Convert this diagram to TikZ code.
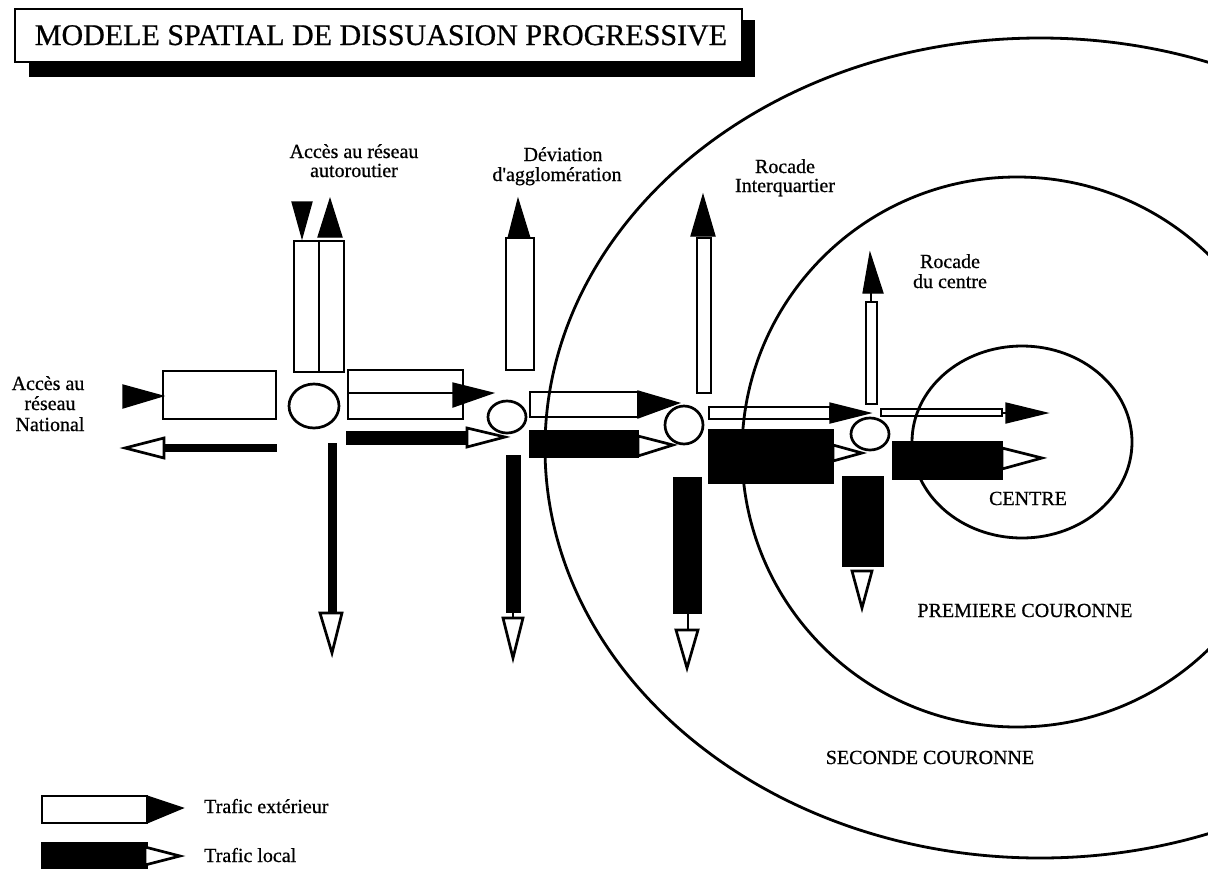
\documentclass[tikz,border=0pt]{standalone}
\usepackage{fontspec}
\setmainfont{Liberation Serif}
\newfontfamily\scanfont[FakeBold=0.7]{Liberation Serif}
\usetikzlibrary{shapes.geometric}
\begin{document}
\begin{tikzpicture}[x=1pt,y=-1pt,line join=miter,
  ring/.style={draw=black,line width=2.8pt},
  wbox/.style={draw=black,line width=2.7pt},
  bbox/.style={draw=black,fill=black,line width=2.7pt},
  bhead/.style={draw=black,fill=black,line width=1.2pt},
  whead/.style={draw=black,fill=white,line width=2.7pt},
  knot/.style={draw=black,fill=white,ellipse,line width=2.7pt,inner sep=0pt},
  lbl/.style={font=\scanfont\fontsize{20}{22}\selectfont,inner sep=0pt,anchor=base},
  lblw/.style={font=\scanfont\fontsize{20}{22}\selectfont,inner sep=0pt,anchor=base west}]
\useasboundingbox (0,0) rectangle (1208,868);
\begin{scope}
\clip (0,0) rectangle (1208,868);
% zones
\draw[ring] (1040,448) ellipse [x radius=495pt, y radius=410pt];
\draw[ring] (1017,452) circle [radius=275pt];
\draw[ring] (1022,442) ellipse [x radius=110pt, y radius=96pt];

% title
\fill[black] (29,20) rectangle (755,77);
\draw[fill=white,line width=2.7pt] (15,9) rectangle (742,62);
\node[font=\scanfont\fontsize{30}{32}\selectfont,inner sep=0pt,anchor=base] (title) at (381,45) {MODELE SPATIAL DE DISSUASION PROGRESSIVE};

% ---- group 1 : national / autoroutier
\node[knot,minimum width=50pt,minimum height=44pt] (c1) at (314,406) {};
\draw[wbox] (163,371) rectangle (276,419);
\draw[bhead] (123,385) -- (123,408) -- (163,396) -- cycle;
\fill[black] (164,444) rectangle (277,452);
\draw[whead] (164,438) -- (164,458) -- (125,448) -- cycle;
\draw[wbox] (294,241) rectangle (319,372);
\draw[wbox] (319,241) rectangle (344,372);
\draw[bhead] (292,202) -- (312,202) -- (302,238) -- cycle;
\draw[bhead] (318,237) -- (342,237) -- (330,199) -- cycle;
\draw[wbox] (348,370) rectangle (463,419);
\draw[wbox] (348,393) -- (453,393);
\draw[bhead] (453,383) -- (453,407) -- (493,393) -- cycle;
\fill[black] (346,431) rectangle (467,445);
\draw[whead] (467,428) -- (467,447) -- (505,437) -- cycle;
\fill[black] (328,443) rectangle (337,613);
\draw[whead] (320,613) -- (342,613) -- (332,653) -- cycle;

% ---- group 2 : deviation
\node[knot,minimum width=38pt,minimum height=32pt] (c2) at (507,417) {};
\draw[wbox] (506,238) rectangle (534,370);
\draw[bhead] (508,238) -- (530,238) -- (518,199) -- cycle;
\draw[wbox] (530,392) rectangle (638,417);
\draw[bhead] (638,391) -- (638,418) -- (679,403) -- cycle;
\draw[bbox] (530,431) rectangle (638,457);
\draw[whead] (638,436) -- (638,456) -- (673,445) -- cycle;
\fill[black] (506,455) rectangle (521,613);
\draw[line width=2.7pt] (513,613) -- (513,618);
\draw[whead] (503,618) -- (523,618) -- (513,658) -- cycle;

% ---- group 3 : interquartier
\node[knot,minimum width=38pt,minimum height=38pt] (c3) at (684,425) {};
\draw[wbox] (697,238) rectangle (711,393);
\draw[bhead] (691,236) -- (715,236) -- (703,195) -- cycle;
\draw[wbox] (709,407) rectangle (830,419);
\draw[bhead] (830,403) -- (830,423) -- (870,413) -- cycle;
\draw[bbox] (709,430) rectangle (833,483);
\draw[whead] (833,445) -- (833,461) -- (862,453) -- cycle;
\draw[bbox] (674,478) rectangle (701,613);
\draw[line width=2.7pt] (688,613) -- (688,630);
\draw[whead] (676,630) -- (698,630) -- (687,668) -- cycle;

% ---- group 4 : rocade du centre
\node[knot,minimum width=38pt,minimum height=32pt] (c4) at (870,434) {};
\draw[wbox] (866,302) rectangle (877,404);
\draw[line width=2.7pt] (871,293) -- (871,302);
\draw[bhead] (863,293) -- (883,293) -- (870,253) -- cycle;
\draw[wbox] (881,409) rectangle (1002,416);
\draw[line width=2.7pt] (1002,413) -- (1006,413);
\draw[bhead] (1006,403) -- (1006,423) -- (1047,413) -- cycle;
\draw[bbox] (893,442) rectangle (1002,479);
\draw[whead] (1002,448) -- (1002,469) -- (1042,458) -- cycle;
\draw[bbox] (843,477) rectangle (883,566);
\draw[whead] (852,571) -- (872,571) -- (862,608) -- cycle;

% ---- labels
\node[lbl] (la1) at (354,158) {Accès au réseau};
\node[lbl] (la2) at (354,177) {autoroutier};
\node[lbl] (ld1) at (563,161) {Déviation};
\node[lbl] (ld2) at (557,181) {d'agglomération};
\node[lbl] (lr1) at (785,173) {Rocade};
\node[lbl] (lr2) at (785,192) {Interquartier};
\node[lbl] (lc1) at (950,268) {Rocade};
\node[lbl] (lc2) at (950,288) {du centre};
\node[lbl] (ln1) at (48,390) {Accès au};
\node[lbl] (ln2) at (50,410) {réseau};
\node[lbl] (ln3) at (50,431) {National};
\node[lbl] (lcentre) at (1028,505) {CENTRE};
\node[lbl] (lprem) at (1025,617) {PREMIERE COURONNE};
\node[lbl] (lsec) at (930,764) {SECONDE COURONNE};

% ---- legend
\draw[wbox] (42,796) rectangle (147,823);
\draw[bhead] (147,796) -- (147,823) -- (183,808) -- cycle;
\node[lblw] (lext) at (204,813) {Trafic extérieur};
\draw[bbox] (42,843) rectangle (147,880);
\draw[whead] (145,847) -- (145,865) -- (180,856) -- cycle;
\node[lblw] (lloc) at (204,862) {Trafic local};
\end{scope}
\end{tikzpicture}
\end{document}
